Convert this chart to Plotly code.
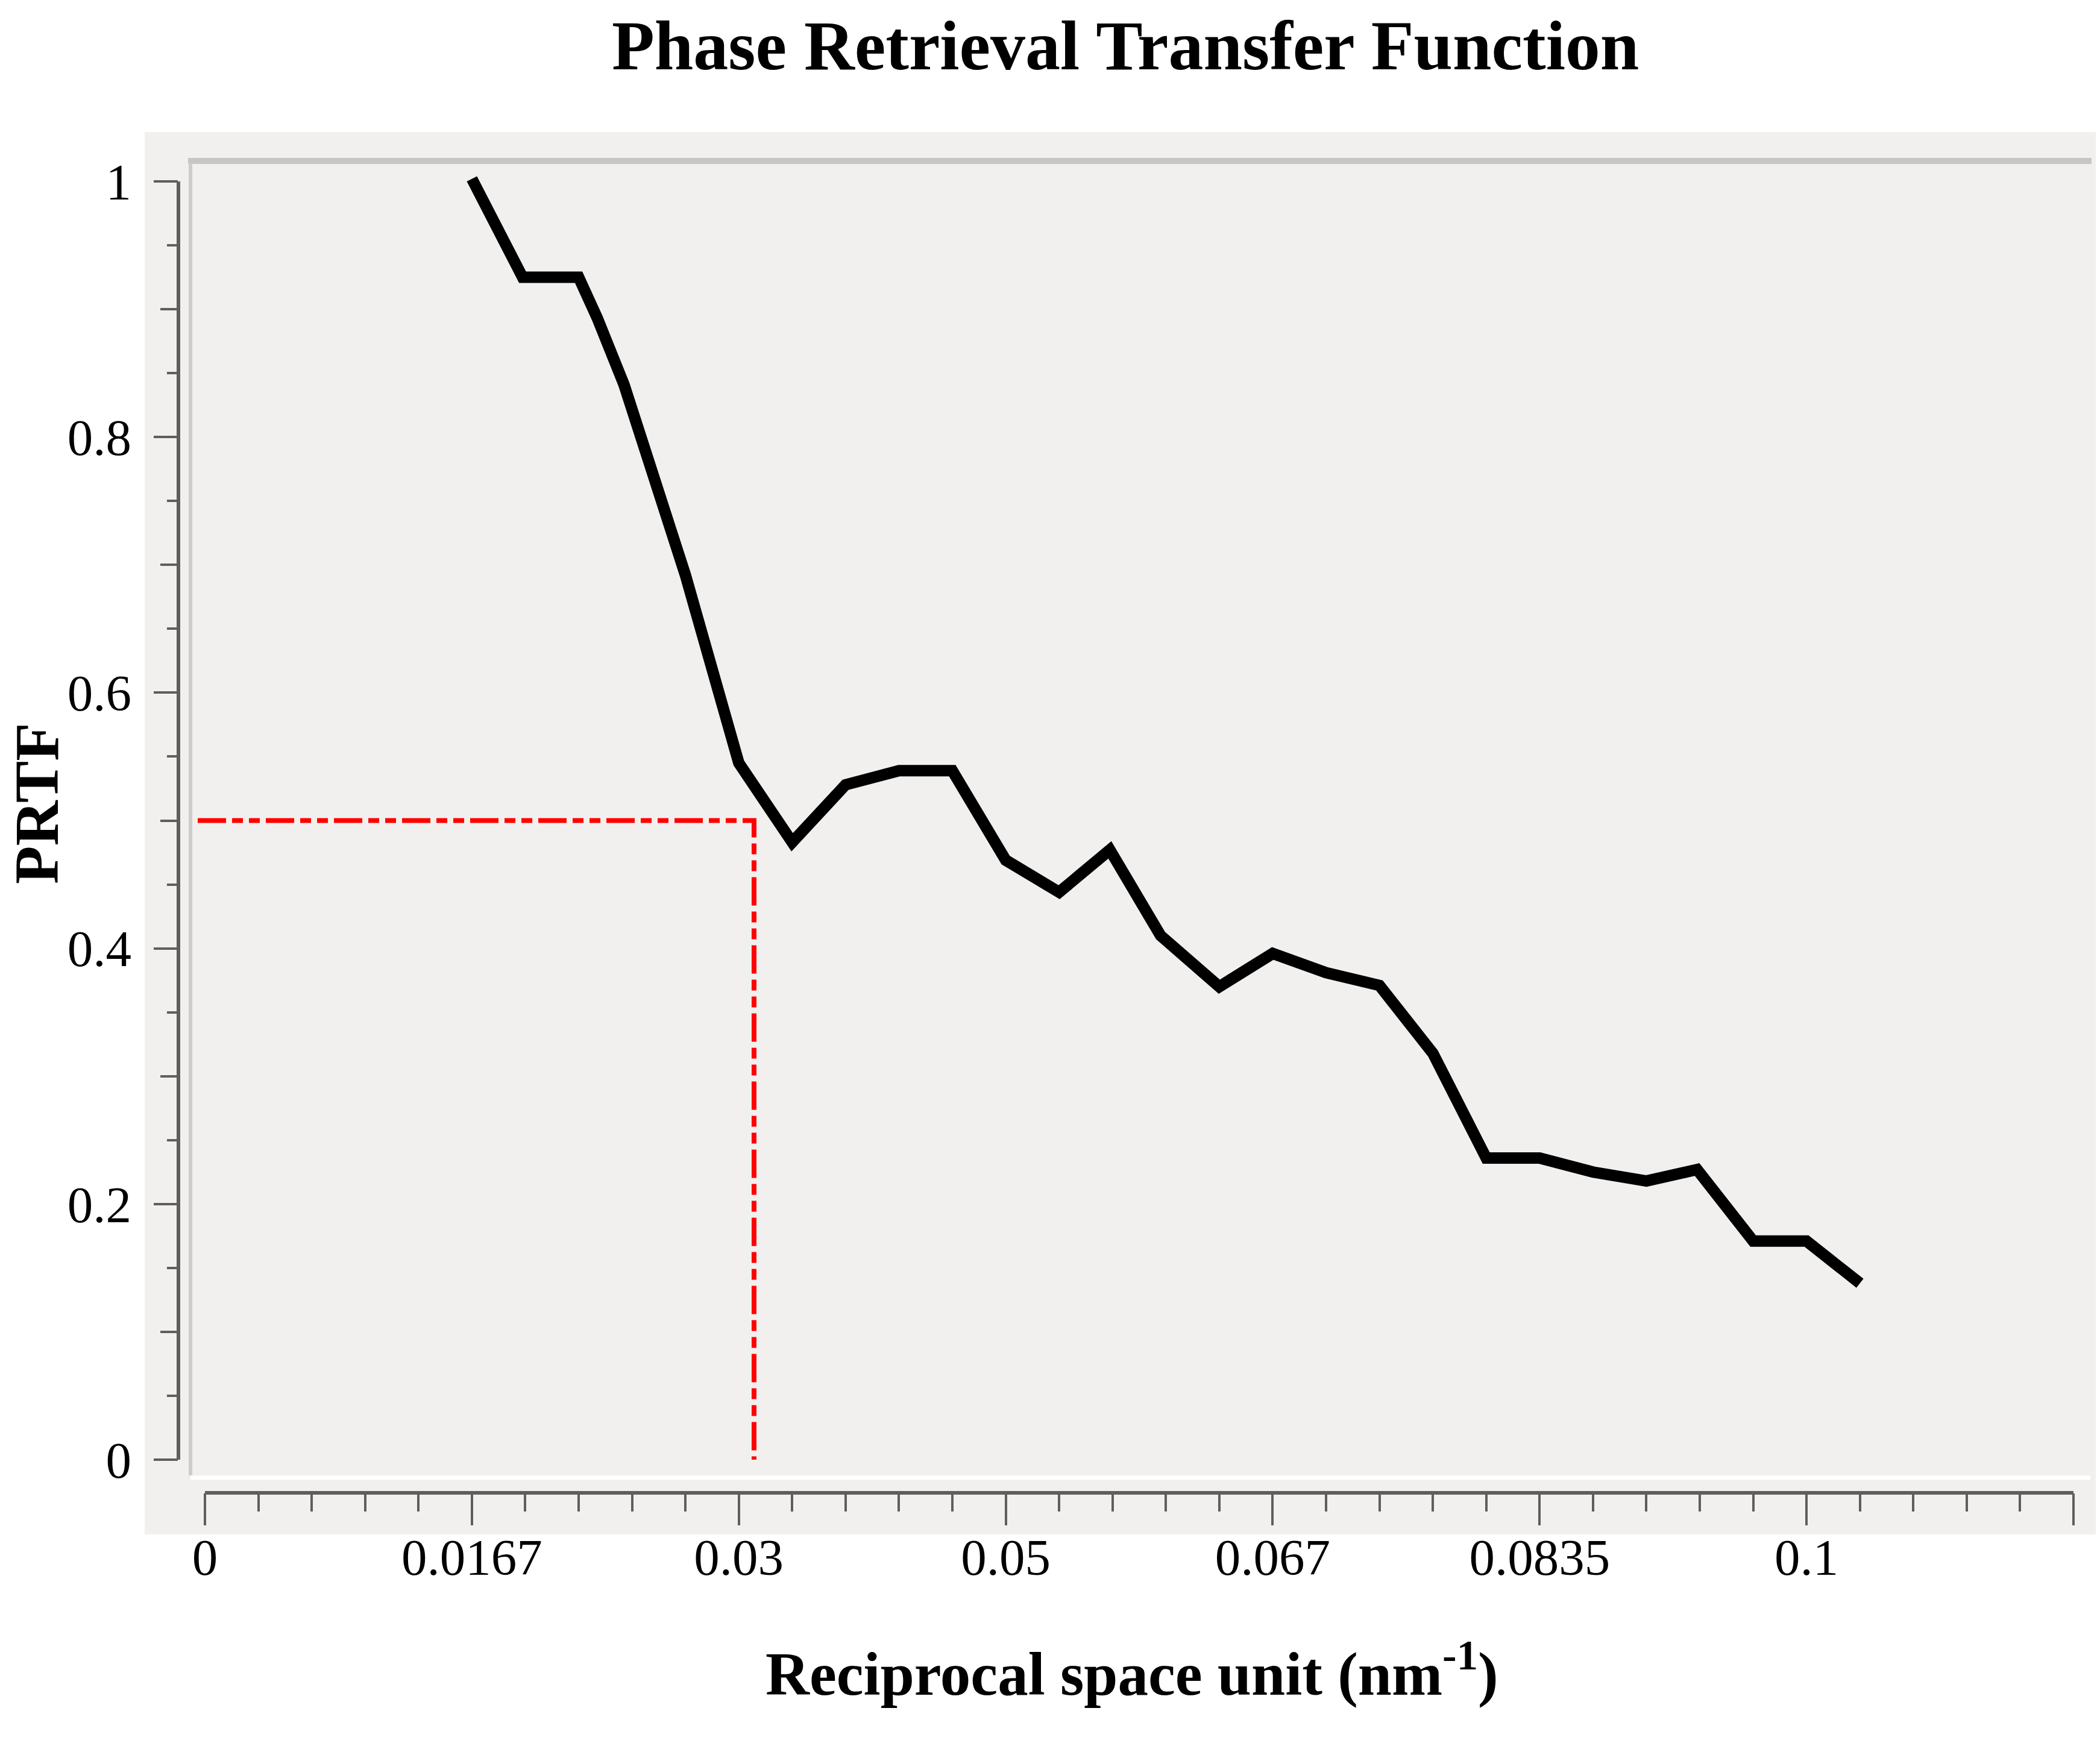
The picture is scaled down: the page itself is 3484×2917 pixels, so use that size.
import plotly.graph_objects as go

# ---------------- data ----------------
# x positions are in major-tick units (the axis is drawn with equally spaced,
# labelled major ticks; 5 minor ticks per major interval)
x_pos = [1.00, 1.19, 1.40, 1.47, 1.57, 1.80, 2.00, 2.20, 2.40, 2.60, 2.80,
         3.00, 3.20, 3.39, 3.58, 3.80, 4.00, 4.20, 4.40, 4.60, 4.80, 5.00,
         5.20, 5.40, 5.59, 5.80, 6.00, 6.20]
prtf = [1.002, 0.925, 0.925, 0.893, 0.841, 0.692, 0.545, 0.483, 0.528, 0.539,
        0.539, 0.469, 0.444, 0.477, 0.410, 0.370, 0.396, 0.381, 0.371, 0.318,
        0.236, 0.236, 0.225, 0.218, 0.227, 0.171, 0.171, 0.138]

x_tick_vals = [0, 1, 2, 3, 4, 5, 6]
x_tick_text = ["0", "0.0167", "0.03", "0.05", "0.067", "0.0835", "0.1"]
x_end_tick = [7]
y_tick_vals = [0, 0.2, 0.4, 0.6, 0.8, 1.0]
y_tick_text = ["0", "0.2", "0.4", "0.6", "0.8", "1"]
y_mid_ticks = [0.1, 0.3, 0.5, 0.7, 0.9]

threshold_y = 0.5          # PRTF = 0.5 criterion
threshold_x = 2.057        # crossing position
threshold_x_start = -0.027

# ---------------- geometry (pixels) ----------------
W, H = 3484, 2917
L, R, T, B = 296, 3470, 267, 2477      # plot-area edges
PW, PH = R - L, B - T
px_per_x = 442.86
x0_px = 340
x_range = [(L - x0_px) / px_per_x, (R - x0_px) / px_per_x]
y0_px, px_per_y = 2422, 2121
y_range = [(y0_px - B) / px_per_y, (y0_px - T) / px_per_y]

def pxx(p):
    return (p - L) / PW

def pxy(p):
    return (B - p) / PH

FONT = "Liberation Serif"
AX = "#5e5e5e"

fig = go.Figure()

fig.add_trace(go.Scatter(
    x=x_pos, y=prtf, mode="lines",
    line=dict(color="black", width=19),
    hoverinfo="skip", showlegend=False, xaxis="x", yaxis="y"))

fig.add_trace(go.Scatter(
    x=[threshold_x_start, threshold_x, threshold_x],
    y=[threshold_y, threshold_y, 0],
    mode="lines",
    line=dict(color="#ff0000", width=8, dash="47px,10px,18px,10px,18px,10px"),
    hoverinfo="skip", showlegend=False, xaxis="x2", yaxis="y2"))

shapes = [
    # gray panel
    dict(type="rect", xref="paper", yref="paper",
         x0=pxx(240), x1=pxx(3477), y0=pxy(2546), y1=pxy(219),
         fillcolor="#f1f0ee", line=dict(width=0), layer="below"),
    # top bevel border
    dict(type="line", xref="paper", yref="paper",
         x0=pxx(312), x1=pxx(3470), y0=pxy(267), y1=pxy(267),
         line=dict(color="#c7c6c4", width=10), layer="below"),
    # left inner light border
    dict(type="line", xref="paper", yref="paper",
         x0=pxx(316), x1=pxx(316), y0=pxy(2448), y1=pxy(270),
         line=dict(color="#cdcccb", width=6), layer="below"),
    # bottom white highlight
    dict(type="line", xref="paper", yref="paper",
         x0=pxx(316), x1=pxx(3468), y0=pxy(2452), y1=pxy(2452),
         line=dict(color="#ffffff", width=7), layer="below"),
    # y axis line (0..1)
    dict(type="line", xref="paper", yref="y",
         x0=0, x1=0, y0=0, y1=1,
         line=dict(color=AX, width=6)),
    # x axis line (0..7)
    dict(type="line", xref="x", yref="paper",
         x0=0, x1=7, y0=0, y1=0,
         line=dict(color=AX, width=6)),
]

tickfont = dict(family=FONT, size=85, color="black")

fig.update_layout(
    width=W, height=H,
    margin=dict(l=L, r=W - R, t=T, b=H - B, pad=0),
    paper_bgcolor="white",
    plot_bgcolor="rgba(0,0,0,0)",
    showlegend=False,
    xaxis=dict(
        range=x_range, showgrid=False, zeroline=False, showline=False,
        tickmode="array", tickvals=x_tick_vals, ticktext=x_tick_text,
        ticks="outside", ticklen=53, tickwidth=4, tickcolor=AX,
        tickfont=tickfont, ticklabelstandoff=-20,
        minor=dict(ticks="outside", dtick=0.2, tick0=0, ticklen=30,
                   tickwidth=4, tickcolor=AX, showgrid=False),
    ),
    xaxis2=dict(
        range=x_range, overlaying="x", side="bottom", anchor="y",
        showgrid=False, zeroline=False, showline=False,
        tickmode="array", tickvals=x_end_tick,
        ticks="outside", ticklen=53, tickwidth=4, tickcolor=AX,
        showticklabels=False,
    ),
    yaxis=dict(
        range=y_range, showgrid=False, zeroline=False, showline=False,
        tickmode="array", tickvals=y_tick_vals, ticktext=y_tick_text,
        ticks="outside", ticklen=40, tickwidth=4, tickcolor=AX,
        tickfont=tickfont, ticklabelstandoff=20,
        minor=dict(ticks="outside", dtick=0.05, tick0=0, ticklen=18,
                   tickwidth=4, tickcolor=AX, showgrid=False),
    ),
    yaxis2=dict(
        range=y_range, overlaying="y", side="left", anchor="x",
        showgrid=False, zeroline=False, showline=False,
        tickmode="array", tickvals=y_mid_ticks,
        ticks="outside", ticklen=29, tickwidth=4, tickcolor=AX,
        showticklabels=False,
    ),
    shapes=shapes,
    annotations=[
        dict(text="<b>Phase Retrieval Transfer Function</b>",
             xref="paper", yref="paper", x=pxx(1867), y=pxy(76),
             xanchor="center", yanchor="middle", showarrow=False,
             font=dict(family=FONT, size=116, color="black")),
        dict(text="<b>Reciprocal space unit (nm<sup>-1</sup>)</b>",
             xref="paper", yref="paper", x=pxx(1878), y=pxy(2770),
             xanchor="center", yanchor="middle", showarrow=False,
             font=dict(family=FONT, size=101, color="black")),
        dict(text="<b>PRTF</b>", textangle=-90,
             xref="paper", yref="paper", x=pxx(60), y=pxy(1333),
             xanchor="center", yanchor="middle", showarrow=False,
             font=dict(family=FONT, size=104, color="black")),
    ],
)

fig.write_html("out.html", config={"displayModeBar": False},
               post_script="document.body.style.margin='0';")
